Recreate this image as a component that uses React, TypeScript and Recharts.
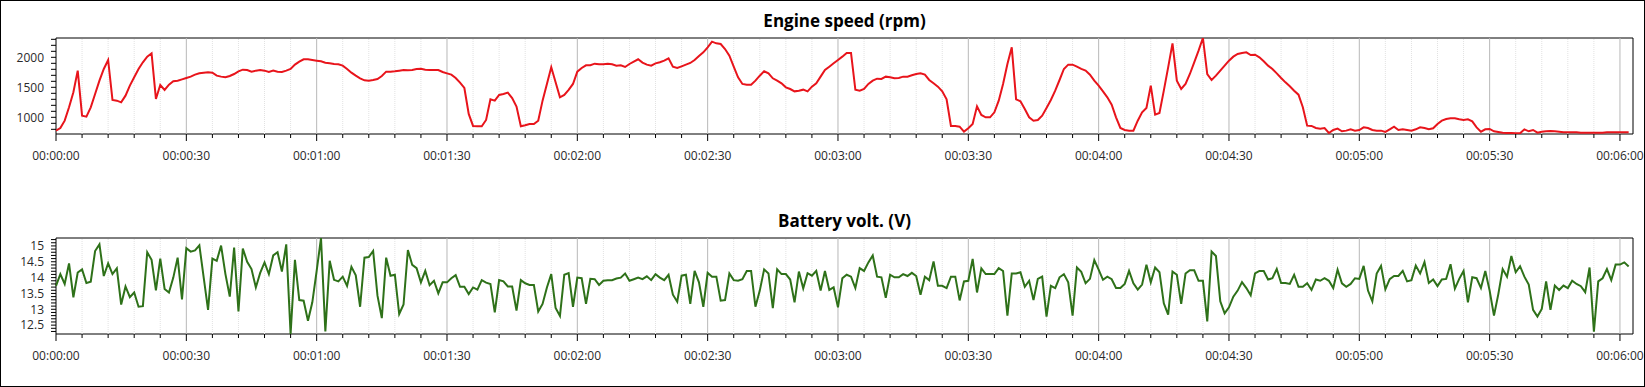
import React from "react";
import { LineChart, Line, XAxis, YAxis, ReferenceLine, ReferenceArea } from "recharts";

// one sample per second, index = seconds since start
const engineRpm = [
  778, 822, 944, 1167, 1417, 1778, 1028, 1011, 1167, 1389,
  1611, 1806, 1956, 1289, 1278, 1250, 1361, 1528, 1667, 1806,
  1917, 2011, 2067, 1306, 1539, 1456, 1544, 1600, 1611, 1633,
  1656, 1678, 1711, 1733, 1744, 1750, 1744, 1694, 1678, 1667,
  1689, 1722, 1767, 1794, 1789, 1761, 1778, 1789, 1778, 1756,
  1778, 1761, 1756, 1778, 1806, 1878, 1928, 1967, 1967, 1956,
  1944, 1933, 1911, 1900, 1889, 1883, 1861, 1806, 1744, 1694,
  1650, 1617, 1611, 1622, 1639, 1689, 1761, 1761, 1767, 1778,
  1789, 1783, 1789, 1806, 1811, 1794, 1789, 1789, 1789, 1756,
  1733, 1711, 1656, 1578, 1489, 1056, 856, 850, 850, 956,
  1300, 1278, 1372, 1389, 1411, 1322, 1178, 850, 867, 889,
  889, 944, 1278, 1556, 1833, 1583, 1333, 1372, 1456, 1556,
  1761, 1822, 1867, 1867, 1894, 1883, 1883, 1894, 1883, 1861,
  1867, 1839, 1889, 1928, 1967, 1911, 1878, 1861, 1900, 1917,
  1944, 1983, 1844, 1822, 1850, 1878, 1906, 1956, 2022, 2083,
  2167, 2261, 2233, 2222, 2139, 2028, 1844, 1667, 1556, 1544,
  1544, 1611, 1694, 1767, 1733, 1650, 1611, 1567, 1500, 1472,
  1433, 1444, 1461, 1433, 1511, 1567, 1678, 1789, 1844, 1900,
  1956, 2011, 2072, 2072, 1461, 1444, 1472, 1556, 1611, 1644,
  1639, 1678, 1667, 1650, 1656, 1678, 1678, 1700, 1722, 1733,
  1711, 1622, 1567, 1511, 1433, 1300, 856, 856, 844, 761,
  817, 889, 1183, 1039, 1000, 1000, 1083, 1278, 1556, 1889,
  2167, 1300, 1267, 1139, 1000, 944, 956, 1028, 1156, 1289,
  1444, 1622, 1806, 1878, 1878, 1844, 1806, 1778, 1711, 1611,
  1528, 1433, 1333, 1211, 1000, 822, 789, 778, 778, 944,
  1083, 1156, 1528, 1044, 1072, 1444, 1833, 2233, 1611, 1472,
  1556, 1722, 1917, 2111, 2322, 1722, 1622, 1694, 1778, 1861,
  1944, 2011, 2056, 2072, 2083, 2039, 2044, 2000, 1933, 1861,
  1806, 1733, 1656, 1583, 1517, 1444, 1378, 1167, 861, 856,
  822, 811, 822, 739, 789, 811, 767, 778, 800, 778,
  789, 833, 822, 789, 778, 778, 756, 800, 844, 789,
  800, 789, 778, 800, 833, 822, 800, 817, 889, 944,
  972, 983, 983, 967, 956, 967, 933, 833, 761, 800,
  806, 767, 756, 744, 739, 739, 733, 733, 800, 767,
  789, 744, 761, 767, 772, 767, 761, 750, 750, 750,
  750, 744, 744, 744, 744, 744, 744, 750, 750, 750,
  750, 750, 750,
];

const batteryVolts = [
  13.74, 14.11, 13.8, 14.45, 13.38, 14.16, 14.26, 13.83, 13.87, 14.84,
  15.05, 14.05, 14.45, 14.11, 14.29, 13.15, 13.72, 13.38, 13.53, 13.08,
  13.1, 14.8, 14.56, 13.6, 14.6, 13.64, 13.53, 14.0, 14.63, 13.31,
  14.93, 14.82, 14.86, 15.02, 14.0, 12.98, 14.6, 14.53, 15.01, 14.11,
  13.4, 14.95, 12.93, 14.92, 14.5, 14.27, 13.69, 14.15, 14.48, 14.11,
  14.7, 14.8, 14.19, 15.05, 12.22, 14.56, 13.29, 13.27, 12.64, 13.22,
  14.21, 15.25, 12.3, 14.53, 13.93, 13.88, 14.03, 13.74, 14.34, 14.07,
  13.08, 14.63, 14.65, 14.84, 13.43, 12.72, 14.63, 14.06, 14.09, 12.85,
  13.15, 14.87, 14.4, 14.3, 13.85, 14.21, 13.76, 13.9, 13.5, 13.85,
  13.85, 13.98, 14.08, 13.71, 13.71, 13.48, 13.69, 13.62, 13.92, 13.84,
  13.8, 12.9, 13.92, 13.88, 13.72, 13.72, 12.96, 13.92, 13.82, 13.77,
  13.77, 12.93, 13.17, 13.69, 14.11, 13.04, 12.79, 14.09, 14.14, 13.08,
  14.0, 13.98, 13.17, 13.96, 13.95, 13.77, 13.9, 13.92, 13.92, 13.97,
  14.0, 14.13, 13.9, 13.95, 14.0, 13.95, 14.04, 13.92, 14.11, 14.0,
  13.92, 14.09, 13.46, 13.24, 14.06, 14.09, 13.17, 14.21, 13.85, 13.08,
  14.15, 14.03, 14.03, 13.27, 13.29, 14.13, 13.92, 13.9, 13.95, 14.21,
  14.21, 13.08, 13.59, 14.26, 14.13, 13.04, 14.26, 14.11, 14.11, 13.94,
  13.22, 14.19, 13.66, 14.14, 14.06, 14.21, 13.59, 14.21, 13.61, 13.69,
  13.06, 13.98, 14.09, 14.03, 13.67, 14.3, 14.21, 14.48, 14.7, 14.03,
  14.01, 13.36, 14.09, 14.01, 14.01, 14.11, 14.05, 14.15, 14.05, 13.46,
  14.03, 13.92, 14.51, 13.74, 13.74, 13.67, 14.03, 14.03, 13.28, 13.88,
  13.9, 14.59, 13.53, 14.29, 14.11, 14.11, 14.11, 14.3, 14.21, 12.8,
  14.13, 14.13, 14.17, 13.71, 13.9, 13.29, 13.96, 14.03, 12.77, 13.74,
  13.67, 14.01, 14.11, 13.85, 12.8, 14.32, 14.18, 13.82, 13.96, 14.55,
  14.25, 13.93, 14.03, 13.95, 13.67, 13.67, 13.8, 14.21, 13.82, 13.62,
  13.78, 14.41, 13.85, 14.32, 14.17, 13.19, 12.83, 14.19, 14.09, 13.17,
  14.13, 14.23, 14.23, 13.9, 13.9, 12.62, 14.82, 14.68, 13.25, 12.87,
  13.06, 13.4, 13.59, 13.86, 13.67, 13.44, 14.13, 14.21, 14.21, 13.94,
  13.98, 14.27, 13.83, 13.83, 13.8, 14.09, 13.71, 13.71, 13.82, 13.61,
  13.94, 13.9, 13.98, 13.9, 13.67, 14.25, 13.82, 13.71, 13.8, 13.98,
  13.96, 14.37, 13.59, 13.25, 14.13, 14.37, 13.63, 13.95, 14.05, 14.05,
  14.21, 13.88, 13.92, 14.38, 14.13, 14.49, 13.83, 13.94, 13.73, 13.94,
  13.96, 14.42, 13.65, 13.96, 14.21, 13.22, 14.01, 13.98, 13.67, 14.21,
  13.59, 12.8, 13.48, 14.27, 14.03, 14.68, 14.17, 14.36, 14.03, 13.78,
  12.98, 12.77, 13.01, 13.88, 12.98, 13.75, 13.61, 13.75, 13.67, 13.9,
  13.8, 13.73, 13.54, 14.32, 12.29, 13.88, 13.98, 14.27, 13.92, 14.41,
  14.41, 14.48, 14.35,
];

const seconds = engineRpm.map((_, i) => i);

// x ticks every 6 s, labelled every 30 s
const timeTicks = [
  0, 6, 12, 18, 24, 30, 36, 42, 48, 54, 60, 66, 72, 78, 84, 90, 96, 102, 108, 114,
  120, 126, 132, 138, 144, 150, 156, 162, 168, 174, 180, 186, 192, 198, 204, 210,
  216, 222, 228, 234, 240, 246, 252, 258, 264, 270, 276, 282, 288, 294, 300, 306,
  312, 318, 324, 330, 336, 342, 348, 354, 360,
];
const rpmTicks = [800, 900, 1000, 1100, 1200, 1300, 1400, 1500, 1600, 1700, 1800, 1900, 2000, 2100, 2200, 2300];
const voltTicks = [
  12.3, 12.4, 12.5, 12.6, 12.7, 12.8, 12.9, 13, 13.1, 13.2, 13.3, 13.4, 13.5, 13.6, 13.7,
  13.8, 13.9, 14, 14.1, 14.2, 14.3, 14.4, 14.5, 14.6, 14.7, 14.8, 14.9, 15, 15.1, 15.2,
];

const X_MAX = 363;
const W = 1645;
const H = 190;
const FONT = "'Open Sans', 'Noto Sans', sans-serif";

const engineData = seconds.map((t, i) => ({ t, v: engineRpm[i] }));
const batteryData = seconds.map((t, i) => ({ t, v: batteryVolts[i] }));

const pad = (n: number) => String(n).padStart(2, "0");
const fmtTime = (s: number) => `${pad(Math.floor(s / 3600))}:${pad(Math.floor(s / 60) % 60)}:${pad(s % 60)}`;

const TimeTick = (props: any) => {
  const { x, y, payload } = props;
  const major = payload.value % 30 === 0;
  return (
    <g>
      <line x1={x} y1={y} x2={x} y2={y + (major ? 7 : 4)} stroke="#000" />
      {major && (
        <text x={x} y={y + 26} textAnchor="middle" fontSize={12} fill="#2a2a2a" fontFamily={FONT}>
          {fmtTime(payload.value)}
        </text>
      )}
    </g>
  );
};

const makeValueTick = (isMajor: (v: number) => boolean) => (props: any) => {
  const { x, y, payload } = props;
  const v = payload.value;
  return (
    <g>
      <line x1={x - 5} y1={y} x2={x} y2={y} stroke="#000" />
      {isMajor(v) && (
        <text x={x - 12} y={y} dy="0.36em" textAnchor="end" fontSize={12} fill="#2a2a2a" fontFamily={FONT}>
          {String(Number(v.toFixed(1)))}
        </text>
      )}
    </g>
  );
};

const RpmTick = makeValueTick((v) => v % 500 === 0);
const VoltTick = makeValueTick((v) => Math.round(v * 10) % 5 === 0);

type PanelProps = {
  title: string;
  data: { t: number; v: number }[];
  domain: [number, number];
  ticks: number[];
  tick: any;
  color: string;
  top: number;
};

const Panel = ({ title, data, domain, ticks, tick, color, top }: PanelProps) => (
  <div style={{ position: "absolute", left: 0, top, width: W, height: H }}>
    <div
      style={{
        position: "absolute",
        left: 55,
        width: 1577,
        top: 11,
        textAlign: "center",
        fontWeight: 700,
        fontSize: 17,
        lineHeight: "17px",
        color: "#000",
      }}
    >
      {title}
    </div>
    <LineChart width={W} height={H} data={data} margin={{ top: 37, right: 13, left: 5, bottom: 27 }}>
      <XAxis
        dataKey="t"
        type="number"
        domain={[0, X_MAX]}
        ticks={timeTicks}
        interval={0}
        tickSize={0}
        tickMargin={0}
        axisLine={false}
        tick={TimeTick}
        height={30}
      />
      <YAxis
        type="number"
        domain={domain}
        allowDataOverflow
        ticks={ticks}
        interval={0}
        tickSize={0}
        tickMargin={0}
        axisLine={false}
        tick={tick}
        width={50}
      />
      {timeTicks
        .filter((t) => t > 0)
        .map((t) =>
          t % 30 === 0 ? (
            <ReferenceLine key={t} x={t} stroke="#b8b8b8" strokeWidth={1} />
          ) : (
            <ReferenceLine key={t} x={t} stroke="#e2e2e2" strokeWidth={1} strokeDasharray="1 1" />
          )
        )}
      <Line type="linear" dataKey="v" stroke={color} strokeWidth={2} dot={false} isAnimationActive={false} />
      <ReferenceArea x1={0} x2={X_MAX} y1={domain[0]} y2={domain[1]} fill="none" stroke="#000" strokeWidth={1} />
    </LineChart>
  </div>
);

export default function App() {
  return (
    <div
      style={{
        position: "absolute",
        left: 0,
        top: 0,
        width: W,
        height: 387,
        boxSizing: "border-box",
        border: "1px solid #000",
        background: "#fff",
        fontFamily: FONT,
        overflow: "hidden",
      }}
    >
      <Panel title="Engine speed (rpm)" data={engineData} domain={[722, 2322]} ticks={rpmTicks} tick={RpmTick} color="#e8141b" top={0} />
      <Panel title="Battery volt. (V)" data={batteryData} domain={[12.22, 15.25]} ticks={voltTicks} tick={VoltTick} color="#2e7119" top={200} />
    </div>
  );
}
